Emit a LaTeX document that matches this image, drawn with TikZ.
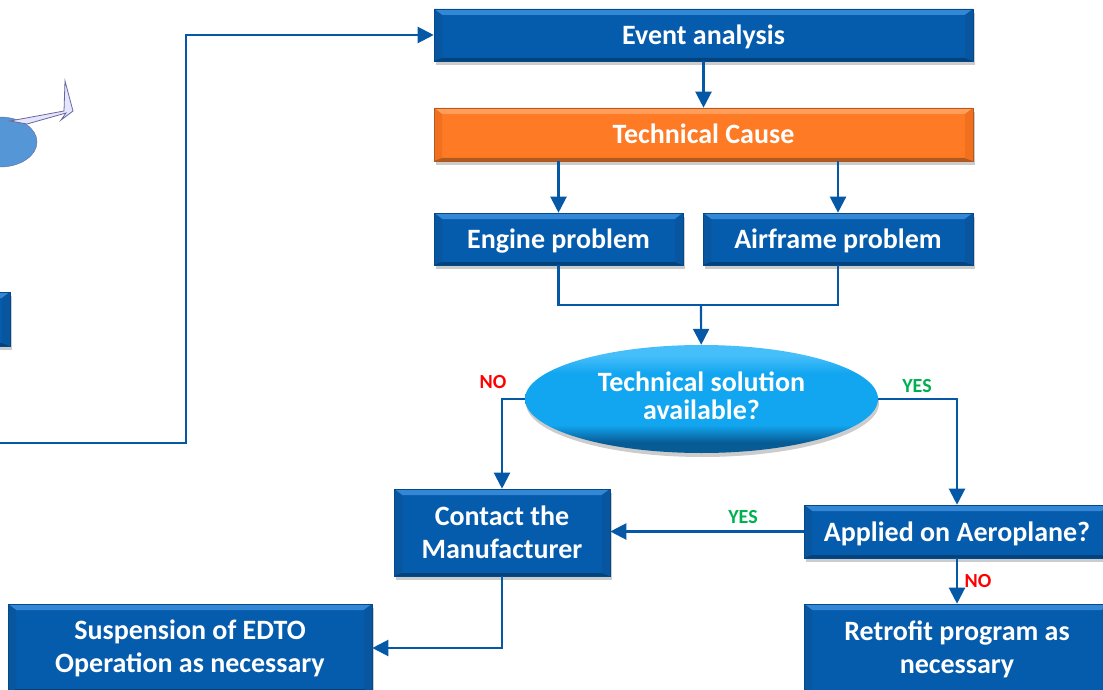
\documentclass[tikz,border=0pt]{standalone}
\usepackage{fontspec}
\setmainfont{Carlito}
\usetikzlibrary{arrows.meta,shapes.geometric,shadows}

\definecolor{boxblue}{RGB}{5,92,172}
\definecolor{boxlight}{RGB}{52,135,212}
\definecolor{boxside}{RGB}{8,86,160}
\definecolor{boxdark}{RGB}{4,66,124}
\definecolor{boxorange}{RGB}{255,122,36}
\definecolor{orangelight}{RGB}{255,158,90}
\definecolor{orangeside}{RGB}{240,112,30}
\definecolor{orangedark}{RGB}{176,90,32}
\definecolor{linkblue}{RGB}{5,88,165}
\definecolor{yesgreen}{RGB}{0,176,80}
\definecolor{solutionlight}{RGB}{70,190,250}
\definecolor{solutionmain}{RGB}{18,166,240}
\definecolor{solutiondark}{RGB}{8,92,150}
\definecolor{planeblue}{RGB}{85,150,214}

\pgfdeclareverticalshading{solutionshade}{100bp}{
  color(0bp)=(solutiondark); color(30bp)=(solutiondark); color(38bp)=(solutionmain);
  color(62bp)=(solutionmain); color(70bp)=(solutionlight); color(100bp)=(solutionlight)}

\tikzset{
  bevel/.style n args={4}{
    path picture={
      \coordinate (nw) at (path picture bounding box.north west);
      \coordinate (ne) at (path picture bounding box.north east);
      \coordinate (sw) at (path picture bounding box.south west);
      \coordinate (se) at (path picture bounding box.south east);
      \fill[#1] (nw) -- (ne) -- ([shift={(-8pt,-6pt)}]ne) -- ([shift={(8pt,-6pt)}]nw) -- cycle;
      \fill[#2] (nw) -- (sw) -- ([shift={(8pt,3pt)}]sw) -- ([shift={(8pt,-6pt)}]nw) -- cycle;
      \fill[#3] (sw) -- (se) -- ([shift={(-8pt,3pt)}]se) -- ([shift={(8pt,3pt)}]sw) -- cycle;
      \fill[#4] (ne) -- (se) -- ([shift={(-8pt,3pt)}]se) -- ([shift={(-8pt,-6pt)}]ne) -- cycle;
    }},
  flowbox/.style={
    rectangle, draw=boxblue!80!black, line width=0.6pt, fill=boxblue, text=white,
    font=\fontsize{28}{33}\selectfont\bfseries, align=center, inner sep=0pt,
    drop shadow={shadow xshift=2pt, shadow yshift=-4pt, opacity=0.2, fill=black}},
  bluebox/.style={flowbox, bevel={{fill=boxlight}}{{fill=boxside}}{{fill=boxdark}}{{fill=boxside}}},
  orangebox/.style={flowbox, draw=orangedark, fill=boxorange,
    bevel={{fill=orangelight}}{{fill=orangeside}}{{fill=orangedark}}{{fill=orangeside}}},
  oneline/.style={text height=23pt, text depth=4pt},
  question/.style={
    ellipse, draw=none, text=white, inner sep=0pt, align=center,
    font=\fontsize{28}{28}\selectfont\bfseries, text depth=6pt,
    shading=solutionshade,
    drop shadow={shadow xshift=1pt, shadow yshift=-4pt, opacity=0.2, fill=black}},
  link/.style={draw=linkblue, line width=2.2pt, -{Triangle[length=16pt,width=16pt]}},
  plainlink/.style={draw=linkblue, line width=2.2pt},
  answer/.style={font=\fontsize{20}{22}\selectfont\bfseries, inner sep=0pt}
}

\begin{document}
\begin{tikzpicture}[x=1pt,y=-1pt]
  \useasboundingbox (0,0) rectangle (1103,690);
  \clip (0,0) rectangle (1103,690);

  % aeroplane
  \fill[planeblue, draw=gray!80!blue] (0,142) ellipse [x radius=37, y radius=25];
  \draw[gray!80!blue, fill=blue!10, line width=0.8pt] (10,121) -- (64,111) -- (65,81) -- (73,111) -- (61,120) -- (66,113) -- (27,124) -- cycle;

  % boxes
  \node[bluebox, oneline, minimum width=539, minimum height=52] (event) at (703.5,35) {Event analysis};
  \node[orangebox, oneline, text height=21pt, minimum width=539, minimum height=53] (cause) at (703.5,134.5) {Technical Cause};
  \node[bluebox, oneline, minimum width=249, minimum height=52] (engine) at (558.5,239) {Engine problem};
  \node[bluebox, oneline, minimum width=270, minimum height=52] (airframe) at (838,239) {Airframe problem};
  \node[question, minimum width=353, minimum height=108] (solution) at (701.5,399) {Technical solution\\available?};
  \node[bluebox, minimum width=216, minimum height=87] (contact) at (502,532.5) {Contact the\\Manufacturer};
  \node[bluebox, oneline, minimum width=306, minimum height=53] (applied) at (957,531.5) {Applied on Aeroplane?};
  \node[bluebox, minimum width=306, minimum height=90] (retrofit) at (957,649) {Retrofit program as\\necessary};
  \node[bluebox, minimum width=364, minimum height=88] (suspension) at (190,648) {Suspension of EDTO\\Operation as necessary};
  \node[bluebox, minimum width=60, minimum height=54] (monitor) at (-20,319) {};

  % connectors
  \coordinate (start) at (-5,443);
  \coordinate (merge) at (701,305);
  \draw[link] (start) -- (186,443) -- (186,35) -- (event.west);
  \draw[link] (event) -- (cause);
  \draw[link] (cause.south -| engine) -- (engine);
  \draw[link] (cause.south -| airframe) -- (airframe);
  \draw[plainlink] (engine) -- (engine |- merge) -- (airframe |- merge) -- (airframe);
  \draw[link] (merge) -- (solution);
  \draw[link] (solution.west) -- (solution.west -| contact) -- (contact);
  \draw[link] (solution.east) -- (solution.east -| applied) -- (applied);
  \draw[link] (applied.west) -- (contact.east |- applied.west);
  \draw[link] (applied) -- (retrofit);
  \draw[link] (contact) -- (contact |- suspension) -- (suspension);

  % answers
  \foreach \name/\col/\x/\y/\txt in {no1/red/493/382/NO, yes1/yesgreen/917/386/YES, yes2/yesgreen/743/517/YES, no2/red/978/581/NO} {
      \node[answer, text=\col] (\name) at (\x,\y) {\txt};
  }
\end{tikzpicture}
\end{document}
